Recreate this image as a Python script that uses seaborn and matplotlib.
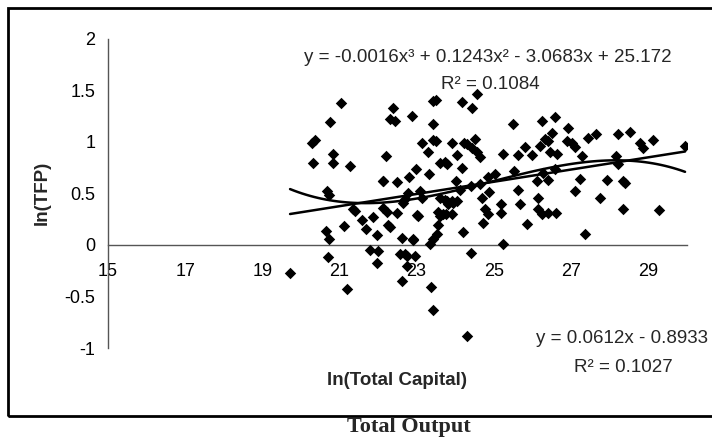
import numpy as np
import pandas as pd
import seaborn as sns
import matplotlib.pyplot as plt
from matplotlib.patches import Rectangle

#---------------------------------------Data--------------------------------------------------------------------#
ln_capital = [19.72, 20.29, 20.37, 20.31, 20.65, 20.73, 20.70, 20.76, 20.83, 20.83,
              20.68, 20.72, 21.04, 21.27, 21.40, 21.12, 21.20, 21.59, 21.70, 21.87,
              21.97, 21.79, 21.99, 21.97, 22.13, 22.23, 22.26, 22.31, 22.49, 22.62,
              22.90, 23.00, 22.57, 22.70, 22.75, 22.96, 22.75, 22.62, 23.37, 23.42,
              24.30, 24.41, 24.72, 25.24, 25.86, 27.37, 24.20, 23.35, 23.43, 23.53,
              23.56, 23.60, 23.76, 23.92, 23.79, 23.94, 22.39, 22.30, 22.44, 22.88,
              23.43, 23.50, 24.18, 24.44, 24.57, 23.43, 25.50, 26.25, 26.59, 26.93,
              26.50, 27.44, 27.65, 28.22, 28.53, 28.79, 28.87, 29.13, 29.96, 23.15,
              23.43, 23.50, 23.92, 24.23, 24.31, 24.52, 23.30, 22.21, 24.05, 24.44,
              24.57, 24.65, 25.24, 25.63, 25.81, 25.99, 26.20, 26.33, 26.41, 26.46,
              26.64, 26.90, 27.03, 27.11, 27.29, 28.17, 28.22, 23.60, 23.74, 23.79,
              24.18, 22.99, 22.80, 23.32, 22.13, 22.49, 24.02, 24.85, 25.03, 25.53,
              26.28, 26.59, 27.24, 27.94, 28.35, 28.40, 22.78, 23.09, 24.13, 24.41,
              23.14, 24.70, 26.12, 26.41, 26.15, 27.76, 27.11, 22.65, 22.70, 22.13,
              23.60, 23.74, 23.81, 23.92, 24.05, 24.77, 24.85, 25.20, 25.20, 25.68,
              26.25, 26.41, 26.62, 26.15, 28.35, 29.29, 21.35, 24.64, 24.88, 25.63,
              23.56, 23.69, 23.04, 22.91]
ln_tfp = [-0.27, 0.99, 1.02, 0.80, 0.14, 0.06, -0.12, 1.19, 0.88, 0.80,
          0.52, 0.49, 1.38, 0.77, 0.33, 0.18, -0.43, 0.24, 0.16, 0.27,
          0.10, -0.05, -0.06, -0.17, 0.36, 0.32, 0.19, 0.17, 0.31, 0.07,
          0.06, 0.29, -0.09, -0.09, -0.11, -0.11, -0.20, -0.35, -0.41, -0.63,
          -0.88, -0.08, 0.21, 0.01, 0.20, 0.11, 0.13, 0.01, 0.06, 0.11,
          0.19, 0.28, 0.30, 0.30, 0.43, 0.41, 1.33, 1.22, 1.20, 1.25,
          1.40, 1.41, 1.39, 1.33, 1.47, 1.17, 1.17, 1.20, 1.24, 1.14,
          1.09, 1.04, 1.08, 1.08, 1.10, 0.99, 0.94, 1.02, 0.96, 0.99,
          1.02, 1.01, 0.99, 0.99, 0.98, 1.03, 0.90, 0.86, 0.87, 0.94,
          0.90, 0.85, 0.88, 0.87, 0.95, 0.87, 0.96, 1.03, 1.01, 0.90,
          0.88, 1.01, 0.99, 0.95, 0.86, 0.86, 0.79, 0.80, 0.81, 0.79,
          0.75, 0.74, 0.66, 0.69, 0.62, 0.61, 0.62, 0.66, 0.69, 0.72,
          0.70, 0.74, 0.64, 0.63, 0.62, 0.60, 0.50, 0.52, 0.53, 0.57,
          0.46, 0.46, 0.62, 0.63, 0.46, 0.46, 0.52, 0.41, 0.45, 0.62,
          0.46, 0.44, 0.40, 0.43, 0.43, 0.35, 0.30, 0.40, 0.31, 0.40,
          0.30, 0.31, 0.31, 0.35, 0.35, 0.34, 0.35, 0.59, 0.51, 0.53,
          0.32, 0.30, 0.28, 0.05]

x_ticks = [15, 17, 19, 21, 23, 25, 27, 29]
y_ticks = [-1, -0.5, 0, 0.5, 1, 1.5, 2]
y_tick_labels = ['-1', '-0.5', '0', '0.5', '1', '1.5', '2']

cubic_eq = 'y = -0.0016x³ + 0.1243x² - 3.0683x + 25.172'
cubic_r2 = 'R² = 0.1084'
linear_eq = 'y = 0.0612x - 0.8933'
linear_r2 = 'R² = 0.1027'

df = pd.DataFrame({'ln(Total Capital)': ln_capital, 'ln(TFP)': ln_tfp})

#---------------------------------------Plot-----------------------------------------------#
sns.set_style('white')
plt.rcParams['font.family'] = ['Liberation Sans', 'DejaVu Sans']

fig = plt.figure(figsize=(7.12, 4.44), dpi=100)
ax = fig.add_axes([0.1517, 0.2162, 0.8126, 0.696])

sns.scatterplot(data=df, x='ln(Total Capital)', y='ln(TFP)', marker='D', color='black',
                s=34, linewidth=0, ax=ax, zorder=3)
# trend lines
sns.regplot(data=df, x='ln(Total Capital)', y='ln(TFP)', order=3, ci=None, scatter=False,
            line_kws=dict(color='black', lw=1.8), ax=ax)
sns.regplot(data=df, x='ln(Total Capital)', y='ln(TFP)', order=1, ci=None, scatter=False,
            line_kws=dict(color='black', lw=1.8), ax=ax)

ax.set_xlim(15, 30)
ax.set_ylim(-1, 2)
ax.set_xticks(x_ticks)
ax.set_yticks(y_ticks)
ax.set_yticklabels(y_tick_labels)
ax.set_xlabel('')
ax.set_ylabel('')

for s in ['top', 'right']:
    ax.spines[s].set_visible(False)
ax.spines['bottom'].set_position(('data', 0))
for s in ['left', 'bottom']:
    ax.spines[s].set_color('#555555')
    ax.spines[s].set_linewidth(1)
ax.tick_params(axis='both', direction='out', length=4, width=1, color='#555555',
               labelsize=13, labelcolor='black')
ax.tick_params(axis='x', pad=9)
ax.tick_params(axis='y', pad=5)

ax.text(24.85, 1.82, cubic_eq, ha='center', va='center', fontsize=13.5)
ax.text(24.9, 1.56, cubic_r2, ha='center', va='center', fontsize=13.5)
ax.text(28.33, -0.905, linear_eq, ha='center', va='center', fontsize=13.5, clip_on=False)
ax.text(28.35, -1.19, linear_r2, ha='center', va='center', fontsize=13.5, clip_on=False)

fig.text(0.059, 0.565, 'ln(TFP)', rotation=90, ha='center', va='center',
         fontsize=13.5, fontweight='bold')
fig.text(0.558, 0.144, 'ln(Total Capital)', ha='center', va='center',
         fontsize=13.5, fontweight='bold')

# chart border
fig.patches.append(Rectangle((0.0112, 0.063), 1.0, 0.919, transform=fig.transFigure,
                             fill=False, edgecolor='black', linewidth=2))

fig.text(0.5745, 0.027, 'Total Output', ha='center', va='baseline', fontsize=16,
         fontweight='bold', family=['Liberation Serif', 'DejaVu Serif'])

fig.savefig('out.png', dpi=100)
